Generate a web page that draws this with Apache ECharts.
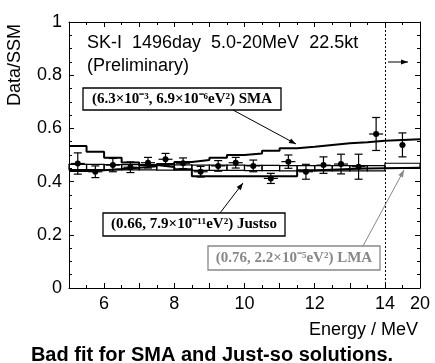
<!DOCTYPE html>
<html>
<head>
<meta charset="utf-8">
<script src="https://cdn.jsdelivr.net/npm/echarts@6/dist/echarts.min.js"></script>
<style>
  html, body { margin: 0; padding: 0; background: #fff; }
  #main { width: 435px; height: 363px; }
</style>
</head>
<body>
<div id="main"></div>
<script>
// energy bins in MeV, the last one (14-20) is squeezed to one unit on the axis
const binLo = [5, 5.5, 6, 6.5, 7, 7.5, 8, 8.5, 9, 9.5, 10, 10.5, 11, 11.5, 12, 12.5, 13, 13.5, 14];
const binHi = [5.5, 6, 6.5, 7, 7.5, 8, 8.5, 9, 9.5, 10, 10.5, 11, 11.5, 12, 12.5, 13, 13.5, 14, 20];

// measured Data/SSM with stat errors
const dataVal = [0.468, 0.437, 0.462, 0.454, 0.471, 0.484, 0.469, 0.437, 0.459, 0.471, 0.459, 0.412, 0.475, 0.437, 0.462, 0.466, 0.456, 0.579, 0.538];
const dataErr = [0.040, 0.022, 0.025, 0.020, 0.020, 0.022, 0.020, 0.020, 0.020, 0.020, 0.022, 0.019, 0.025, 0.028, 0.031, 0.037, 0.047, 0.062, 0.045];
const xErr = [0.2, 0.2, 0.2, 0.2, 0.2, 0.2, 0.2, 0.2, 0.2, 0.2, 0.2, 0.2, 0.2, 0.2, 0.2, 0.2, 0.2, 0.2, 0.5];

// model expectations
const smaVal = [0.440, 0.443, 0.447, 0.452, 0.458, 0.466, 0.474, 0.481, 0.490, 0.500, 0.506, 0.516, 0.525, 0.531, 0.538, 0.544, 0.548, 0.554, 0.559];
const justsoVal = [0.534, 0.512, 0.490, 0.472, 0.462, 0.455, 0.446, 0.420, 0.420, 0.420, 0.420, 0.420, 0.420, 0.443, 0.445, 0.447, 0.449, 0.450, 0.452];
const lmaHi = [0.465, 0.465, 0.464, 0.464, 0.464, 0.463, 0.463, 0.462, 0.462, 0.462, 0.461, 0.461, 0.460, 0.460, 0.460, 0.460, 0.460, 0.460, 0.469];
const lmaLo = [0.445, 0.445, 0.444, 0.444, 0.444, 0.443, 0.443, 0.442, 0.442, 0.442, 0.441, 0.441, 0.440, 0.440, 0.440, 0.440, 0.440, 0.440, 0.450];

const xTicks = [6, 8, 10, 12, 14, 20];
const breakAt = 14;

// axis transform: linear up to 14 MeV, then 6 MeV -> 1 unit
const toAxis = e => e <= breakAt ? e : breakAt + (e - breakAt) / 6;
const fromAxis = v => v <= breakAt ? v : breakAt + (v - breakAt) * 6;

const stepData = vals => {
  const out = [];
  vals.forEach((v, i) => {
    out.push([toAxis(binLo[i]), v]);
    out.push([toAxis(binHi[i]), v]);
  });
  return out;
};

const points = dataVal.map((v, i) => [toAxis((binLo[i] + binHi[i]) / 2), v, dataErr[i], toAxis(binLo[i] + (binHi[i] - binLo[i]) / 2 + xErr[i]) - toAxis((binLo[i] + binHi[i]) / 2)]);
const boxes = lmaHi.map((v, i) => [toAxis(binLo[i]), toAxis(binHi[i]), lmaLo[i], v]);

const sans = 'Liberation Sans, Arial, sans-serif';
const serif = 'Liberation Serif, Times New Roman, serif';

function arrow(x1, y1, x2, y2, color) {
  const a = Math.atan2(y2 - y1, x2 - x1), L = 7, W = 2.6;
  const p1 = [x2 - L * Math.cos(a) + W * Math.sin(a), y2 - L * Math.sin(a) - W * Math.cos(a)];
  const p2 = [x2 - L * Math.cos(a) - W * Math.sin(a), y2 - L * Math.sin(a) + W * Math.cos(a)];
  return [
    { type: 'line', z: 100, shape: { x1, y1, x2, y2 }, style: { stroke: color, lineWidth: 1 } },
    { type: 'polygon', z: 100, shape: { points: [[x2, y2], p1, p2] }, style: { fill: color } }
  ];
}

function labelBox(x, y, w, h, text, color) {
  return [
    { type: 'rect', z: 100, shape: { x, y, width: w, height: h }, style: { fill: '#fff', stroke: color, lineWidth: 1.3 } },
    { type: 'text', z: 101, x: x + w / 2, y: y + h / 2, style: { text, fill: color, font: 'bold 15px ' + serif, align: 'center', verticalAlign: 'middle' } }
  ];
}

const chart = echarts.init(document.getElementById('main'));

const axisCommon = {
  type: 'value',
  axisLine: { show: true, onZero: false, lineStyle: { color: '#000', width: 1 } },
  axisTick: { show: true, inside: true, length: 5, lineStyle: { color: '#000' } },
  minorTick: { show: true, length: 3, lineStyle: { color: '#000' } },
  splitLine: { show: false }
};

const option = {
  backgroundColor: '#fff',
  animation: false,
  grid: { left: 69, right: 15, top: 22, bottom: 75 },
  xAxis: [
    Object.assign({}, axisCommon, {
      min: 5, max: 15, interval: 1,
      minorTick: { show: true, splitNumber: 2, length: 3, lineStyle: { color: '#000' } },
      axisLabel: {
        customValues: xTicks.map(toAxis),
        formatter: v => String(Math.round(fromAxis(v))),
        color: '#000', fontSize: 18, fontFamily: sans, margin: 7
      }
    }),
    Object.assign({}, axisCommon, {
      position: 'top', min: 5, max: 15, interval: 1,
      minorTick: { show: true, splitNumber: 2, length: 3, lineStyle: { color: '#000' } },
      axisLabel: { show: false }
    })
  ],
  yAxis: [
    Object.assign({}, axisCommon, {
      min: 0, max: 1, interval: 0.2,
      minorTick: { show: true, splitNumber: 4, length: 3, lineStyle: { color: '#000' } },
      axisLabel: { color: '#000', fontSize: 18, fontFamily: sans, margin: 7 }
    }),
    Object.assign({}, axisCommon, {
      position: 'right', min: 0, max: 1, interval: 0.2,
      minorTick: { show: true, splitNumber: 4, length: 3, lineStyle: { color: '#000' } },
      axisLabel: { show: false }
    })
  ],
  series: [
    {
      name: 'LMA',
      type: 'custom',
      data: boxes,
      renderItem: (params, api) => {
        const p0 = api.coord([api.value(0), api.value(3)]);
        const p1 = api.coord([api.value(1), api.value(2)]);
        return {
          type: 'rect',
          shape: { x: p0[0], y: p0[1], width: p1[0] - p0[0], height: p1[1] - p0[1] },
          style: { fill: 'none', stroke: '#000', lineWidth: 1.2 }
        };
      },
      silent: true
    },
    {
      name: 'SMA',
      type: 'line',
      data: stepData(smaVal),
      symbol: 'none',
      lineStyle: { color: '#000', width: 2 },
      silent: true,
      markLine: {
        silent: true,
        symbol: 'none',
        label: { show: false },
        lineStyle: { color: '#000', type: [2, 2], width: 1 },
        data: [{ xAxis: toAxis(breakAt) }]
      }
    },
    {
      name: 'Justso',
      type: 'line',
      data: stepData(justsoVal),
      symbol: 'none',
      lineStyle: { color: '#000', width: 2 },
      silent: true
    },
    {
      name: 'Data',
      type: 'custom',
      data: points,
      z: 10,
      renderItem: (params, api) => {
        const xc = api.value(0), y = api.value(1), e = api.value(2), xe = api.value(3);
        const top = api.coord([xc, y + e]), bot = api.coord([xc, y - e]);
        const l = api.coord([xc - xe, y]), r = api.coord([xc + xe, y]);
        const c = api.coord([xc, y]);
        const st = { stroke: '#000', lineWidth: 1.2 };
        return {
          type: 'group',
          children: [
            { type: 'line', shape: { x1: top[0], y1: top[1], x2: bot[0], y2: bot[1] }, style: st },
            { type: 'line', shape: { x1: top[0] - 4, y1: top[1], x2: top[0] + 4, y2: top[1] }, style: st },
            { type: 'line', shape: { x1: bot[0] - 4, y1: bot[1], x2: bot[0] + 4, y2: bot[1] }, style: st },
            { type: 'line', shape: { x1: l[0], y1: l[1], x2: r[0], y2: r[1] }, style: st },
            { type: 'circle', shape: { cx: c[0], cy: c[1], r: 3 }, style: { fill: '#000' } }
          ]
        };
      },
      silent: true
    }
  ],
  graphic: [
    { type: 'text', x: 15, y: 65, rotation: Math.PI / 2, style: { text: 'Data/SSM', font: '18px ' + sans, fill: '#000', align: 'center', verticalAlign: 'middle' } },
    { type: 'text', x: 87, y: 43, style: { text: 'SK-I  1496day  5.0-20MeV  22.5kt', font: '18px ' + sans, fill: '#000', verticalAlign: 'middle' } },
    { type: 'text', x: 87, y: 66, style: { text: '(Preliminary)', font: '18px ' + sans, fill: '#000', verticalAlign: 'middle' } },
    ...labelBox(83, 88, 198, 22, '(6.3×10⁻³, 6.9×10⁻⁶eV²) SMA', '#000'),
    ...arrow(233, 110, 296, 144, '#000'),
    ...labelBox(103, 213, 182, 23, '(0.66, 7.9×10⁻¹¹eV²) Justso', '#000'),
    ...arrow(220, 213, 243, 183, '#000'),
    ...labelBox(208, 246, 172, 24, '(0.76, 2.2×10⁻⁵eV²) LMA', '#888'),
    ...arrow(363, 246, 404, 170, '#888'),
    ...arrow(388, 62, 408, 62, '#000'),
    { type: 'text', x: 418, y: 330, style: { text: 'Energy / MeV', font: '18px ' + sans, fill: '#000', align: 'right', verticalAlign: 'middle' } },
    { type: 'text', x: 212, y: 355, style: { text: 'Bad fit for SMA and Just-so solutions.', font: 'bold 20px ' + sans, fill: '#000', align: 'center', verticalAlign: 'middle' } }
  ]
};

chart.setOption(option);
</script>
</body>
</html>
